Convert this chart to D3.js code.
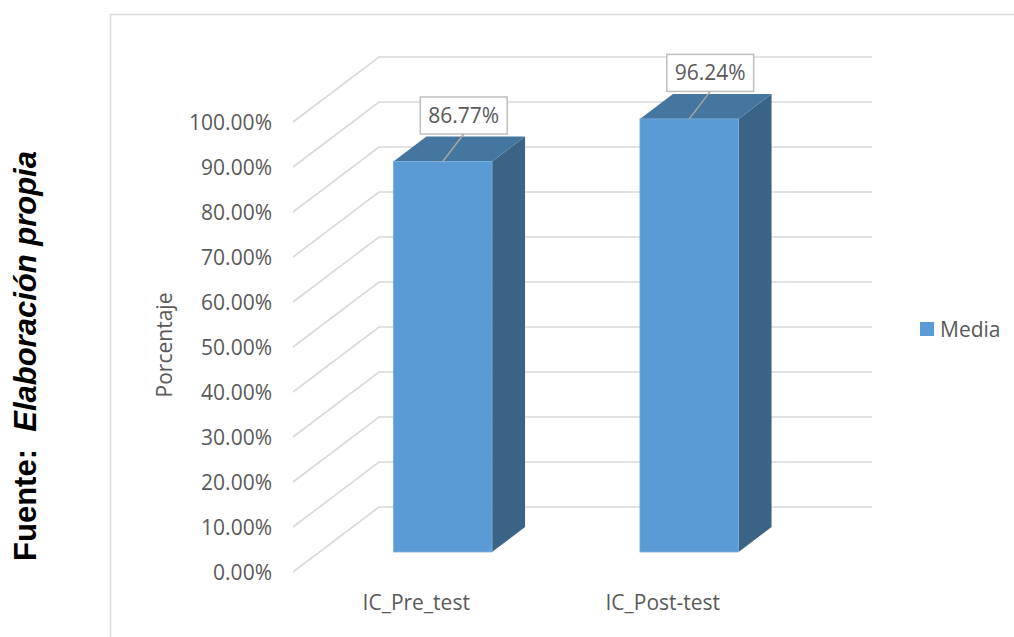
<!DOCTYPE html>
<html>
<head>
<meta charset="utf-8">
<script src="https://cdn.jsdelivr.net/npm/d3@7"></script>
<style>
  html, body { margin: 0; padding: 0; background: #ffffff; }
  svg { display: block; }
  text { font-family: "Open Sans", "Noto Sans", sans-serif; }
  text.source { font-family: "Liberation Sans", Arial, sans-serif; }
</style>
</head>
<body>
<svg id="chart" width="1014" height="637"></svg>
<script>
// Series data
const categories = ["IC_Pre_test", "IC_Post-test"];
const seriesName = "Media";
const values = [0.8677, 0.9624];
const yTicks = [0, 0.1, 0.2, 0.3, 0.4, 0.5, 0.6, 0.7, 0.8, 0.9, 1.0];
const yTitle = "Porcentaje";
const sourceLead = "Fuente:\u00a0\u00a0";
const sourceRest = "Elaboración propia";

const svg = d3.select("#chart");

// Oblique 3D projection: front plane and the depth offset toward the back wall
const depth = { dx: 86, dy: -65 };
const y = d3.scaleLinear().domain([0, 1]).range([572, 122]);
const x = d3.scaleBand().domain(categories).range([293, 786]).paddingInner(0).paddingOuter(0);
const fmt = d3.format(".2%");

const barWidthFrac = 0.40;   // bar width as fraction of band
const barDepthStart = 0.308; // bars sit in the middle of the depth
const barDepthFrac = 0.384;

const textColor = "#595959";
const gridColor = "#d9d9d9";
const faceColor = "#5b9bd5";
const topColor = "#44769f";
const sideColor = "#3a6386";

// Chart frame
svg.append("rect")
  .attr("x", 110.5).attr("y", 14.5)
  .attr("width", 1000).attr("height", 700)
  .attr("fill", "none").attr("stroke", gridColor).attr("stroke-width", 1.5);

// Gridlines: floor-side diagonal plus back-wall horizontal
const grid = svg.append("g").attr("fill", "none").attr("stroke", gridColor).attr("stroke-width", 1.6);
yTicks.forEach(t => {
  const fx = x.range()[0], fy = y(t);
  const bx = fx + depth.dx, by = fy + depth.dy;
  grid.append("path")
    .attr("d", `M${fx},${fy}L${bx},${by}L${x.range()[1] + depth.dx},${by}`);
});

// Y tick labels
svg.append("g").selectAll("text").data(yTicks).join("text")
  .attr("x", x.range()[0] - 21)
  .attr("y", d => y(d))
  .attr("dy", "0.36em")
  .attr("text-anchor", "end")
  .attr("font-size", 21)
  .attr("fill", textColor)
  .text(d => fmt(d));

// Y axis title
svg.append("text")
  .attr("transform", "translate(172,345) rotate(-90)")
  .attr("text-anchor", "middle")
  .attr("font-size", 21)
  .attr("fill", textColor)
  .text(yTitle);

// Bars
const bars = svg.append("g");
categories.forEach((c, i) => {
  const v = values[i];
  const bw = x.bandwidth() * barWidthFrac;
  const ox = depth.dx * barDepthStart, oy = depth.dy * barDepthStart;
  const ddx = depth.dx * barDepthFrac, ddy = depth.dy * barDepthFrac;
  const x0 = x(c) + (x.bandwidth() - bw) / 2 + ox;
  const x1 = x0 + bw;
  const yb = y(0) + oy;
  const yt = y(v) + oy;

  // side face
  bars.append("path")
    .attr("d", `M${x1},${yb}L${x1 + ddx},${yb + ddy}L${x1 + ddx},${yt + ddy}L${x1},${yt}Z`)
    .attr("fill", sideColor);
  // top face
  bars.append("path")
    .attr("d", `M${x0},${yt}L${x1},${yt}L${x1 + ddx},${yt + ddy}L${x0 + ddx},${yt + ddy}Z`)
    .attr("fill", topColor);
  // front face
  bars.append("rect")
    .attr("x", x0).attr("y", yt)
    .attr("width", bw).attr("height", yb - yt)
    .attr("fill", faceColor)
    .attr("stroke", "#7aaedc").attr("stroke-width", 0.8);

  // Data label with leader line
  const cx = (x0 + x1) / 2;
  const lx = cx + 21, ly = yt - 46;
  const label = svg.append("g");
  const txt = label.append("text")
    .attr("x", lx).attr("y", ly)
    .attr("dy", "0.36em")
    .attr("text-anchor", "middle")
    .attr("font-size", 21)
    .attr("fill", textColor)
    .text(fmt(v));
  const tw = txt.node().getComputedTextLength();
  const bwBox = tw + 16, bhBox = 37;
  label.insert("rect", "text")
    .attr("x", lx - bwBox / 2).attr("y", ly - bhBox / 2)
    .attr("width", bwBox).attr("height", bhBox)
    .attr("fill", "#ffffff").attr("stroke", "#bfbfbf").attr("stroke-width", 1.5);
  label.append("line")
    .attr("x1", lx).attr("y1", ly + bhBox / 2)
    .attr("x2", cx).attr("y2", yt)
    .attr("stroke", "#a6a6a6").attr("stroke-width", 1.5);
});

// Category labels
svg.append("g").selectAll("text").data(categories).join("text")
  .attr("x", d => x(d) + x.bandwidth() / 2)
  .attr("y", 602)
  .attr("dy", "0.36em")
  .attr("text-anchor", "middle")
  .attr("font-size", 21)
  .attr("fill", textColor)
  .text(d => d);

// Legend
const legend = svg.append("g").attr("transform", "translate(920,322)");
legend.append("rect").attr("width", 14).attr("height", 14).attr("fill", faceColor);
legend.append("text")
  .attr("x", 20).attr("y", 7).attr("dy", "0.36em")
  .attr("font-size", 21).attr("fill", textColor)
  .text(seriesName);

// Source note, rotated along the left edge
const src = svg.append("text")
  .attr("class", "source")
  .attr("transform", "translate(36,356) rotate(-90)")
  .attr("text-anchor", "middle")
  .attr("font-weight", "bold")
  .attr("font-size", 31)
  .attr("fill", "#000000");
src.append("tspan").text(sourceLead);
src.append("tspan").attr("font-style", "italic").text(sourceRest);
</script>
</body>
</html>
